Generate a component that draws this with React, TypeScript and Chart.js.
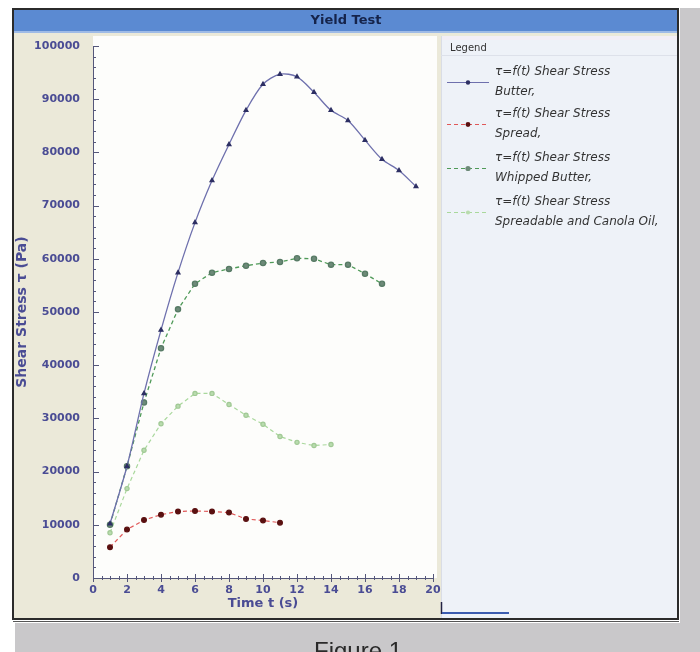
import React, { useEffect, useRef } from "react";
import { Chart, registerables } from "chart.js";

Chart.register(...registerables);

const chartTitle = "Yield Test";
const xTitle = "Time t (s)";
const yTitle = "Shear Stress \u03c4 (Pa)";
const legendTitle = "Legend";
const legendPrefix = "\u03c4=f(t) Shear Stress";
const caption = "Figure 1";

const seriesNames = ["Butter,", "Spread,", "Whipped Butter,", "Spreadable and Canola Oil,"];

const butterTime = [1, 2, 3, 4, 5, 6, 7, 8, 9, 10, 11, 12, 13, 14, 15, 16, 17, 18, 19];
const butterStress = [10200, 21000, 34700, 46600, 57400, 66800, 74700, 81500, 87900, 92800, 94700, 94200, 91300, 87900, 86000, 82300, 78700, 76600, 73600];

const spreadTime = [1, 2, 3, 4, 5, 6, 7, 8, 9, 10, 11];
const spreadStress = [5800, 9100, 10900, 11900, 12500, 12600, 12500, 12300, 11100, 10800, 10400];

const whippedTime = [1, 2, 3, 4, 5, 6, 7, 8, 9, 10, 11, 12, 13, 14, 15, 16, 17];
const whippedStress = [10000, 21000, 33000, 43200, 50500, 55300, 57400, 58100, 58700, 59200, 59400, 60100, 60000, 58900, 58900, 57200, 55300];

const canolaTime = [1, 2, 3, 4, 5, 6, 7, 8, 9, 10, 11, 12, 13, 14];
const canolaStress = [8500, 16800, 24000, 29000, 32300, 34700, 34700, 32600, 30600, 28900, 26600, 25500, 24900, 25100];

const xTickStep = 2;
const yTickStep = 10000;

const AXIS_COLOR = "#4a4c94";

function toPoints(xs: number[], ys: number[]) {
  return xs.map((x, i) => ({ x, y: ys[i] }));
}

const framePlugin = {
  id: "frame",
  beforeDraw(chart: any) {
    const ctx = chart.ctx;
    const { left, right, bottom } = chart.chartArea;
    ctx.save();
    ctx.fillStyle = "#ffffff";
    ctx.fillRect(0, 0, 700, 652);
    ctx.fillStyle = "#c9c8ca";
    ctx.fillRect(680, 8, 20, 644);
    ctx.fillRect(15, 623, 685, 29);
    ctx.fillStyle = "#ebe9d9";
    ctx.fillRect(14, 9, 664, 610);
    ctx.fillStyle = "#5b8ad2";
    ctx.fillRect(14, 10, 664, 22);
    ctx.fillStyle = "#9fbbe6";
    ctx.fillRect(14, 31, 664, 2);
    ctx.fillStyle = "#fdfdfb";
    ctx.fillRect(left, 36, right + 4 - left, bottom - 36);
    ctx.fillStyle = "#eef2f8";
    ctx.fillRect(441, 36, 237, 582);
    ctx.fillStyle = "#f3eef6";
    ctx.fillRect(441, 36, 237, 4);
    ctx.strokeStyle = "#d9dde6";
    ctx.lineWidth = 1;
    ctx.beginPath();
    ctx.moveTo(441.5, 36);
    ctx.lineTo(441.5, 618);
    ctx.stroke();
    ctx.fillStyle = "#15234a";
    ctx.font = "bold 13px 'DejaVu Sans'";
    ctx.textAlign = "center";
    ctx.textBaseline = "middle";
    ctx.fillText(chartTitle, 346, 21);
    ctx.restore();
  },
  afterDraw(chart: any) {
    const ctx = chart.ctx;
    const xs = chart.scales.x;
    const ys = chart.scales.y;
    const { left, right, top, bottom } = chart.chartArea;
    ctx.save();
    ctx.strokeStyle = "#55577a";
    ctx.lineWidth = 1;
    ctx.beginPath();
    ctx.moveTo(left + 0.5, top);
    ctx.lineTo(left + 0.5, bottom);
    ctx.moveTo(left, bottom + 0.5);
    ctx.lineTo(right, bottom + 0.5);
    ctx.stroke();
    ctx.beginPath();
    for (let v = 0; v <= ys.max; v += yTickStep / 5) {
      const py = Math.round(ys.getPixelForValue(v)) + 0.5;
      const major = v % yTickStep === 0;
      ctx.moveTo(left, py);
      ctx.lineTo(left + (major ? 6 : 3), py);
    }
    for (let v = 0; v <= xs.max + 1e-9; v += xTickStep / 4) {
      const px = Math.round(xs.getPixelForValue(v)) + 0.5;
      const major = Math.abs(v % xTickStep) < 1e-9;
      ctx.moveTo(px, bottom - (major ? 4 : 2));
      ctx.lineTo(px, bottom + (major ? 4 : 2));
    }
    ctx.stroke();

    // legend
    ctx.fillStyle = "#333333";
    ctx.font = "10px 'DejaVu Sans'";
    ctx.textAlign = "left";
    ctx.textBaseline = "middle";
    ctx.fillText(legendTitle, 450, 48);
    ctx.strokeStyle = "#dde1ea";
    ctx.beginPath();
    ctx.moveTo(441, 55.5);
    ctx.lineTo(678, 55.5);
    ctx.stroke();
    const rowTops = [72, 114, 158, 202];
    chart.data.datasets.forEach((ds: any, i: number) => {
      const y1 = rowTops[i];
      const sampleY = y1 + 10;
      ctx.strokeStyle = ds.borderColor;
      ctx.lineWidth = 1;
      ctx.setLineDash(ds.borderDash || []);
      ctx.beginPath();
      ctx.moveTo(447, sampleY + 0.5);
      ctx.lineTo(489, sampleY + 0.5);
      ctx.stroke();
      ctx.setLineDash([]);
      ctx.fillStyle = ds.pointBackgroundColor;
      ctx.beginPath();
      ctx.arc(468, sampleY + 0.5, ds.pointRadius, 0, Math.PI * 2);
      ctx.fill();
      ctx.fillStyle = "#333333";
      ctx.font = "italic 12px 'DejaVu Sans'";
      ctx.fillText(legendPrefix, 495, y1);
      ctx.fillText(seriesNames[i], 495, y1 + 20);
    });

    ctx.strokeStyle = "#222244";
    ctx.lineWidth = 1.5;
    ctx.beginPath();
    ctx.moveTo(441.5, 602);
    ctx.lineTo(441.5, 614);
    ctx.stroke();
    ctx.strokeStyle = "#3b5cb0";
    ctx.lineWidth = 2;
    ctx.beginPath();
    ctx.moveTo(442, 613);
    ctx.lineTo(509, 613);
    ctx.stroke();

    ctx.strokeStyle = "#2b2b2b";
    ctx.lineWidth = 2;
    ctx.strokeRect(13, 9, 665, 610);
    ctx.lineWidth = 1;
    ctx.strokeStyle = "#555555";
    ctx.beginPath();
    ctx.moveTo(13, 621.5);
    ctx.lineTo(679, 621.5);
    ctx.stroke();

    ctx.fillStyle = "#2a2a2a";
    ctx.font = "24px 'Liberation Sans'";
    ctx.textAlign = "center";
    ctx.textBaseline = "top";
    ctx.fillText(caption, 358, 640);
    ctx.restore();
  },
};

export default function App() {
  const ref = useRef<HTMLCanvasElement | null>(null);
  useEffect(() => {
    if (!ref.current) return;
    const chart = new Chart(ref.current, {
      type: "line",
      data: {
        datasets: [
          {
            label: legendPrefix + " " + seriesNames[0],
            data: toPoints(butterTime, butterStress),
            borderColor: "#6e70ad",
            backgroundColor: "#2d2f63",
            pointBackgroundColor: "#2d2f63",
            pointBorderColor: "#2d2f63",
            pointStyle: "triangle",
            pointRadius: 2.2,
            borderWidth: 1.3,
            tension: 0.3,
          },
          {
            label: legendPrefix + " " + seriesNames[1],
            data: toPoints(spreadTime, spreadStress),
            borderColor: "#e05858",
            backgroundColor: "#5a1010",
            pointBackgroundColor: "#5a1010",
            pointBorderColor: "#5a1010",
            pointRadius: 2.4,
            borderWidth: 1.2,
            borderDash: [4, 3],
            tension: 0,
          },
          {
            label: legendPrefix + " " + seriesNames[2],
            data: toPoints(whippedTime, whippedStress),
            borderColor: "#4f9a58",
            backgroundColor: "#6d8a78",
            pointBackgroundColor: "#6d8a78",
            pointBorderColor: "#567a64",
            pointRadius: 2.6,
            borderWidth: 1.3,
            borderDash: [4, 3],
            tension: 0,
          },
          {
            label: legendPrefix + " " + seriesNames[3],
            data: toPoints(canolaTime, canolaStress),
            borderColor: "#a9d89c",
            backgroundColor: "#b9dcae",
            pointBackgroundColor: "#b9dcae",
            pointBorderColor: "#a0c894",
            pointRadius: 2.1,
            borderWidth: 1.2,
            borderDash: [4, 3],
            tension: 0,
          },
        ],
      },
      options: {
        responsive: false,
        animation: false,
        devicePixelRatio: 1,
        layout: { padding: { left: 13, right: 267, top: 46, bottom: 34 } },
        plugins: {
          legend: { display: false },
          title: { display: false },
          tooltip: { enabled: false },
        },
        scales: {
          x: {
            type: "linear",
            min: 0,
            max: 20,
            afterFit: (s: any) => {
              s.height = 40;
            },
            grid: { display: false, drawTicks: false },
            border: { display: false },
            ticks: {
              stepSize: xTickStep,
              padding: 6,
              color: AXIS_COLOR,
              font: { family: "DejaVu Sans", size: 11, weight: "bold" },
              maxRotation: 0,
              callback: (v: any) => String(v),
            },
            title: {
              display: true,
              text: xTitle,
              color: AXIS_COLOR,
              font: { family: "DejaVu Sans", size: 13, weight: "bold" },
              padding: { top: 0, bottom: 7 },
            },
          },
          y: {
            type: "linear",
            min: 0,
            max: 100000,
            afterFit: (s: any) => {
              s.width = 80;
            },
            grid: { display: false, drawTicks: false },
            border: { display: false },
            ticks: {
              stepSize: yTickStep,
              padding: 13,
              color: AXIS_COLOR,
              font: { family: "DejaVu Sans", size: 11, weight: "bold" },
              callback: (v: any) => String(v),
            },
            title: {
              display: true,
              text: yTitle,
              color: AXIS_COLOR,
              font: { family: "DejaVu Sans", size: 14, weight: "bold" },
              padding: { top: 1, bottom: 0 },
            },
          },
        },
      },
      plugins: [framePlugin],
    });
    return () => chart.destroy();
  }, []);
  return (
    <div style={{ position: "absolute", left: 0, top: 0, width: 700, height: 652 }}>
      <canvas ref={ref} width={700} height={652} style={{ display: "block" }} />
    </div>
  );
}
